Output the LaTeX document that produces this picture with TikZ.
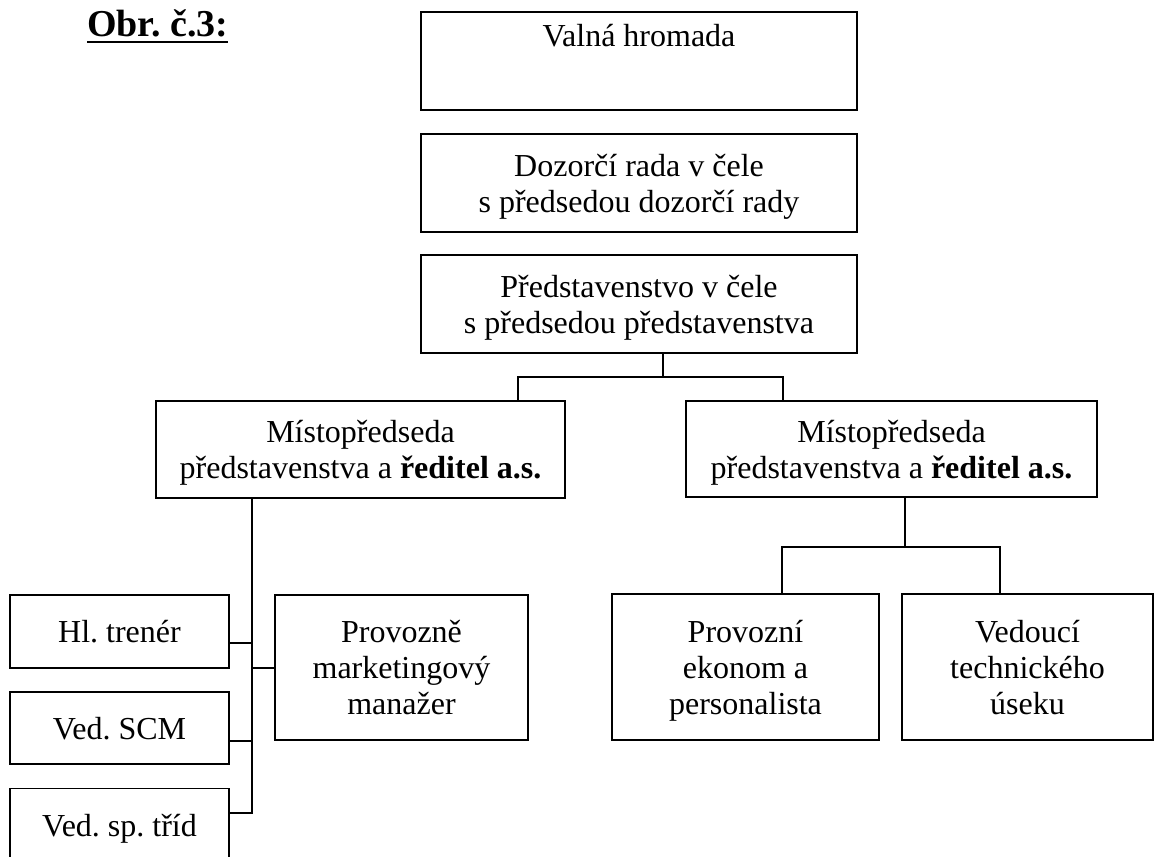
\documentclass[tikz,border=0pt]{standalone}
\usepackage{fontspec}
\setmainfont{Liberation Serif}
\usetikzlibrary{positioning}
\frenchspacing
% struts that keep every box text at the same height
\newcommand{\ts}{\rule{0pt}{33.2pt}}
\newcommand{\bs}{\rule[-10.8pt]{0pt}{10.8pt}}

\tikzset{
 orgbox/.style={draw, line width=1.8pt, align=center, inner sep=0pt, font=\fontsize{32}{36}\selectfont},
 link/.style={line width=1.8pt},
}

\begin{document}
\begin{tikzpicture}[x=1pt,y=-1pt]
 \useasboundingbox (0,0) rectangle (1157,857);
 % title
 \node [inner sep=0pt, anchor=base west, font=\fontsize{38}{44}\selectfont\bfseries] (obr) at (87,36) {Obr. č.3:};
 \draw [line width=2.5pt] ([yshift=-6pt]obr.base west) -- ([yshift=-6pt]obr.base east);
 % top of the chart
 \node [orgbox, minimum width=436pt, text height=34pt, text depth=64pt] (valna) at (639,61) {Valná hromada};
 \node [orgbox, minimum width=436pt, minimum height=98pt] (dozor) at (639,183) {\ts Dozorčí rada v čele\\s předsedou dozorčí rady\bs};
 \node [orgbox, minimum width=436pt, minimum height=98pt] (predst) at (639,304) {\ts Představenstvo v čele\\s předsedou představenstva\bs};
 \node [orgbox, minimum width=409pt, minimum height=97pt] (mist1) at (360.5,449.5) {\ts Místopředseda\\představenstva a \textbf{ředitel a.s.}\bs};
 \node [orgbox, minimum width=411pt, minimum height=96pt] (mist2) at (891.5,449) {\ts Místopředseda\\představenstva a \textbf{ředitel a.s.}\bs};
 % left branch
 \node [orgbox, minimum width=219pt, minimum height=73pt] (trener) at (119.5,631.5) {\ts Hl. trenér\bs};
 \node [orgbox, minimum width=219pt, minimum height=72pt] (scm) at (119.5,728) {\ts Ved. SCM\bs};
 \node [orgbox, minimum width=219pt, minimum height=73pt] (tridy) at (119.5,825) {\ts Ved. sp. tříd\bs};
 \node [orgbox, minimum width=253pt, minimum height=145pt] (manazer) at (401.5,667.5) {\ts Provozně\\marketingový\\manažer\bs};
 % right branch
 \node [orgbox, minimum width=267pt, minimum height=146pt] (ekonom) at (745.5,667) {\ts Provozní\\ekonom a\\personalista\bs};
 \node [orgbox, minimum width=251pt, minimum height=146pt] (technik) at (1027.5,667) {\ts Vedoucí\\technického\\úseku\bs};
 % connectors
 \coordinate (j1) at (663,377);
 \coordinate (j1l) at (518,377);
 \coordinate (j1r) at (783,377);
 \draw [link] (predst.south -| j1) -- (j1);
 \draw [link] (mist1.north -| j1l) -- (j1l) -- (j1r) -- (mist2.north -| j1r);
 \coordinate (t1) at (252,643);
 \coordinate (t2) at (252,741);
 \coordinate (t3) at (252,668);
 \coordinate (t4) at (252,813);
 \draw [link] (mist1.south -| t4) -- (t4) -- (tridy.east |- t4);
 \draw [link] (trener.east |- t1) -- (t1);
 \draw [link] (scm.east |- t2) -- (t2);
 \draw [link] (t3) -- (manazer.west |- t3);
 \coordinate (j3) at (905,547);
 \coordinate (j3l) at (782,547);
 \coordinate (j3r) at (1000,547);
 \draw [link] (mist2.south -| j3) -- (j3);
 \draw [link] (ekonom.north -| j3l) -- (j3l) -- (j3r) -- (technik.north -| j3r);
\end{tikzpicture}
\end{document}
